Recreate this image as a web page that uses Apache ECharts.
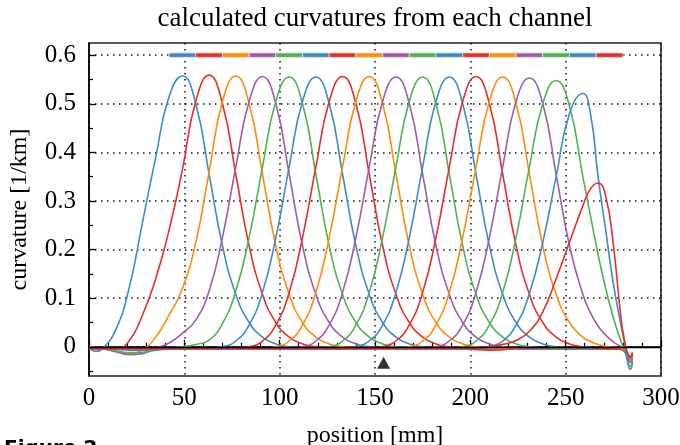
<!DOCTYPE html>
<html><head><meta charset="utf-8">
<script src="https://cdn.jsdelivr.net/npm/echarts@6/dist/echarts.min.js"></script>
<style>html,body{margin:0;padding:0;background:#fff}#c{width:680px;height:445px}</style>
</head><body><div id="c"></div>
<script>
// sample positions [mm]
const positions = [0,3.5,7,14,21,28,35,42,49,56,63,70,77,84,91,98,105,112,119,126,133,140,147,154,161,168,175,182,189,196,203,210,217,224,231,238,245,252,259,263,267,271,275,279,281,283,284,285];

// curvature [1/km] of each channel, read at the positions above
const ch1 = [-0.002,-0.009,-0.004,0.035,0.12,0.255,0.39,0.515,0.557,0.50,0.355,0.208,0.108,0.05,0.02,0.006,0.0,-0.002,
 -0.003,-0.003,-0.003,-0.003,-0.003,-0.003,-0.003,-0.003,-0.003,-0.003,-0.003,-0.003,-0.003,-0.003,-0.003,-0.003,-0.003,-0.003,-0.003,-0.003,-0.003,-0.003,-0.003,-0.003,-0.003,
 -0.004,-0.008,-0.02,-0.022,-0.014];
const ch2 = [-0.001,-0.002,-0.003,-0.005,0.012,0.065,0.14,0.24,0.365,0.505,0.559,0.50,0.355,0.208,0.108,0.05,0.02,0.006,0.0,-0.002,
 -0.004,-0.004,-0.004,-0.004,-0.004,-0.004,-0.004,-0.004,-0.004,-0.004,-0.004,-0.004,-0.004,-0.004,-0.004,-0.004,-0.004,-0.004,-0.004,-0.004,-0.004,-0.004,-0.004,
 -0.005,-0.009,-0.018,-0.02,-0.012];
const ch3 = [0.0,-0.002,-0.004,-0.009,-0.014,-0.006,0.02,0.065,0.12,0.215,0.36,0.505,0.557,0.50,0.355,0.208,0.108,0.05,0.02,0.006,0.0,-0.002,
 -0.003,-0.003,-0.003,-0.003,-0.003,-0.003,-0.003,-0.003,-0.003,-0.003,-0.003,-0.003,-0.003,-0.003,-0.003,-0.003,-0.003,-0.003,-0.003,-0.003,-0.003,
 -0.004,-0.01,-0.022,-0.026,-0.018];
const ch4 = [-0.001,-0.002,-0.004,-0.01,-0.016,-0.014,-0.003,0.008,0.028,0.055,0.115,0.225,0.37,0.505,0.556,0.50,0.355,0.208,0.108,0.05,0.02,0.006,0.0,-0.002,
 -0.003,-0.003,-0.003,-0.003,-0.003,-0.003,-0.003,-0.003,-0.003,-0.003,-0.003,-0.003,-0.003,-0.003,-0.003,-0.003,-0.003,-0.003,-0.003,
 -0.004,-0.01,-0.025,-0.03,-0.02];
const ch5 = [-0.001,-0.002,-0.004,-0.008,-0.012,-0.011,-0.007,-0.003,0.0,0.005,0.014,0.048,0.115,0.225,0.37,0.505,0.555,0.50,0.355,0.208,0.108,0.05,0.02,0.006,0.0,-0.002,
 -0.003,-0.003,-0.003,-0.003,-0.003,-0.003,-0.003,-0.003,-0.003,-0.003,-0.003,-0.003,-0.003,-0.003,-0.003,-0.003,-0.003,
 -0.004,-0.009,-0.02,-0.024,-0.016];
const ch6 = [-0.002,-0.003,-0.004,-0.005,-0.007,-0.007,-0.006,-0.005,-0.004,-0.003,-0.003,0.0,0.012,0.045,0.112,0.225,0.37,0.505,0.555,0.50,0.355,0.208,0.108,0.05,0.02,0.006,0.0,-0.002,
 -0.004,-0.004,-0.004,-0.004,-0.004,-0.004,-0.004,-0.004,-0.004,-0.004,-0.004,-0.004,-0.004,-0.004,-0.004,
 -0.005,-0.01,-0.022,-0.027,-0.02];
const ch7 = [-0.003,-0.003,-0.003,-0.003,-0.003,-0.003,-0.003,-0.003,-0.003,-0.003,-0.003,-0.003,-0.003,
 0.0,0.012,0.045,0.112,0.225,0.37,0.505,0.556,0.50,0.355,0.208,0.108,0.05,0.02,0.006,0.0,-0.003,-0.006,-0.007,-0.006,
 -0.004,-0.004,-0.004,-0.004,-0.004,-0.004,-0.004,-0.004,-0.004,-0.004,
 -0.005,-0.009,-0.02,-0.023,-0.015];
const ch8 = [-0.003,-0.003,-0.003,-0.003,-0.003,-0.003,-0.003,-0.003,-0.003,-0.003,-0.003,-0.003,-0.003,-0.003,-0.003,
 0.0,0.012,0.045,0.112,0.225,0.37,0.505,0.556,0.50,0.355,0.208,0.108,0.05,0.02,0.006,0.0,-0.002,
 -0.003,-0.003,-0.003,-0.003,-0.003,-0.003,-0.003,-0.003,-0.003,-0.003,-0.003,
 -0.004,-0.01,-0.024,-0.028,-0.02];
const ch9 = [-0.003,-0.003,-0.003,-0.003,-0.003,-0.003,-0.003,-0.003,-0.003,-0.003,-0.003,-0.003,-0.003,-0.003,-0.003,-0.003,-0.003,
 0.0,0.012,0.045,0.112,0.225,0.37,0.505,0.555,0.50,0.355,0.208,0.108,0.05,0.02,0.006,0.0,-0.002,
 -0.003,-0.003,-0.003,-0.003,-0.003,-0.003,-0.003,-0.003,-0.003,
 -0.004,-0.009,-0.023,-0.028,-0.019];
const ch10 = [-0.003,-0.003,-0.003,-0.003,-0.003,-0.003,-0.003,-0.003,-0.003,-0.003,-0.003,-0.003,-0.003,-0.003,-0.003,-0.003,-0.003,-0.003,-0.003,
 0.0,0.012,0.045,0.112,0.225,0.37,0.505,0.555,0.50,0.355,0.208,0.108,0.05,0.02,0.006,0.0,-0.002,
 -0.003,-0.003,-0.003,-0.003,-0.003,-0.003,-0.003,
 -0.004,-0.008,-0.021,-0.026,-0.017];
const ch11 = [-0.004,-0.004,-0.004,-0.004,-0.004,-0.004,-0.004,-0.004,-0.004,-0.004,-0.004,-0.004,-0.004,-0.004,-0.004,-0.004,-0.004,-0.004,-0.004,-0.004,-0.004,
 0.0,0.012,0.045,0.112,0.225,0.37,0.505,0.555,0.50,0.355,0.208,0.108,0.05,0.02,0.006,0.0,-0.002,
 -0.004,-0.004,-0.004,-0.004,-0.004,
 -0.005,-0.01,-0.024,-0.03,-0.021];
const ch12 = [-0.004,-0.004,-0.004,-0.004,-0.004,-0.004,-0.004,-0.004,-0.004,-0.004,-0.004,-0.004,-0.004,-0.004,-0.004,-0.004,-0.004,-0.004,-0.004,-0.004,-0.004,-0.004,-0.004,
 0.0,0.012,0.045,0.112,0.225,0.37,0.505,0.556,0.50,0.355,0.208,0.108,0.05,0.02,0.006,0.0,
 -0.002,-0.003,-0.004,-0.004,
 -0.005,-0.009,-0.019,-0.022,-0.014];
const ch13 = [-0.003,-0.003,-0.003,-0.003,-0.003,-0.003,-0.003,-0.003,-0.003,-0.003,-0.003,-0.003,-0.003,-0.003,-0.003,-0.003,-0.003,-0.003,-0.003,-0.003,-0.003,-0.003,-0.003,-0.003,-0.003,
 0.0,0.012,0.045,0.112,0.225,0.37,0.505,0.555,0.50,0.355,0.208,0.108,0.05,0.02,
 0.011,0.005,0.001,-0.001,
 -0.003,-0.009,-0.024,-0.029,-0.02];
const ch14 = [-0.003,-0.003,-0.003,-0.003,-0.003,-0.003,-0.003,-0.003,-0.003,-0.003,-0.003,-0.003,-0.003,-0.003,-0.003,-0.003,-0.003,-0.003,-0.003,-0.003,-0.003,-0.003,-0.003,-0.003,-0.003,-0.003,-0.003,
 0.0,0.012,0.045,0.112,0.225,0.37,0.505,0.553,0.50,0.355,0.208,0.108,
 0.07,0.043,0.024,0.01,
 0.0,-0.006,-0.026,-0.032,-0.022];
const ch15 = [-0.003,-0.003,-0.003,-0.003,-0.003,-0.003,-0.003,-0.003,-0.003,-0.003,-0.003,-0.003,-0.003,-0.003,-0.003,-0.003,-0.003,-0.003,-0.003,-0.003,-0.003,-0.003,-0.003,-0.003,-0.003,-0.003,-0.003,-0.003,-0.003,
 0.0,0.012,0.045,0.112,0.225,0.37,0.50,0.548,0.495,0.35,
 0.27,0.19,0.12,0.06,
 0.012,-0.008,-0.035,-0.04,-0.025];
const ch16 = [-0.004,-0.004,-0.004,-0.004,-0.004,-0.004,-0.004,-0.004,-0.004,-0.004,-0.004,-0.004,-0.004,-0.004,-0.004,-0.004,-0.004,-0.004,-0.004,-0.004,-0.004,-0.004,-0.004,-0.004,-0.004,-0.004,-0.004,-0.004,-0.004,-0.004,-0.004,
 0.0,0.012,0.045,0.11,0.215,0.35,0.48,0.521,
 0.48,0.35,0.24,0.13,
 0.045,0.005,-0.04,-0.046,-0.03];
const ch17 = [-0.004,-0.004,-0.004,-0.004,-0.004,-0.004,-0.004,-0.004,-0.004,-0.004,-0.004,-0.004,-0.004,-0.004,-0.004,-0.004,-0.004,-0.004,-0.004,-0.004,-0.004,-0.004,-0.004,-0.004,-0.004,-0.004,-0.004,-0.004,-0.004,-0.004,
 -0.003,0.0,0.005,0.013,0.032,0.072,0.14,0.215,0.29,
 0.325,0.337,0.31,0.21,
 0.06,0.01,-0.018,-0.02,-0.012];

const channels = [ch1,ch2,ch3,ch4,ch5,ch6,ch7,ch8,ch9,ch10,ch11,ch12,ch13,ch14,ch15,ch16,ch17];
const palette = ['#3d8cc8','#e62e2b','#ff8c0a','#9f5bae','#52b152'];

// coloured channel bar on top
const barEdges = [42,56,70,84,98,112,126,140,154,168,182,196,210,224,238,252,266,280];
const barLevel = 0.6;
// triangle marker
const markerPoint = [[154.5,-0.033]];

// axis ticks
const yMajorTicks = [0,0.1,0.2,0.3,0.4,0.5,0.6];
const yMinorTicks = [-0.05,0.05,0.15,0.25,0.35,0.45,0.55];

const SERIF = '"Liberation Serif","DejaVu Serif",serif';
const chart = echarts.init(document.getElementById('c'), null, {renderer:'canvas'});

const series = channels.map((ch, k) => ({
  type: 'line',
  data: positions.map((x, i) => [x, ch[i]]),
  showSymbol: false,
  smooth: 0.5,
  lineStyle: {color: palette[k % 5], width: 1.6},
  itemStyle: {color: palette[k % 5]},
  z: 3 + k * 0.01,
  silent: true,
  animation: false
}));

series.push({
  type: 'line', data: [], silent: true,
  markLine: {silent: true, symbol: 'none', label: {show: false},
    lineStyle: {color: '#000', width: 1.3, type: 'solid'},
    data: [{yAxis: 0}], animation: false},
  z: 2
});

const barData = [];
for (let i = 0; i < barEdges.length - 1; i++) barData.push([barEdges[i], barEdges[i + 1], barLevel, i % 5]);
series.push({
  type: 'custom', data: barData, silent: true, z: 5,
  renderItem: (params, api) => {
    const s = api.coord([api.value(0), api.value(2)]);
    const e = api.coord([api.value(1), api.value(2)]);
    const h = 4.5;
    return {type: 'rect', shape: {x: s[0], y: s[1] - h / 2, width: e[0] - s[0], height: h},
      style: {fill: palette[api.value(3)], stroke: 'rgba(235,235,235,0.9)', lineWidth: 0.8}};
  }
});

series.push({
  type: 'scatter', data: markerPoint, symbol: 'triangle', symbolSize: [13, 12],
  itemStyle: {color: '#000'}, silent: true, z: 6
});

chart.setOption({
  animation: false,
  backgroundColor: '#fff',
  grid: {left: 89, right: 19, top: 43, bottom: 69, show: true, borderColor: '#222', borderWidth: 1.6,
    backgroundColor: 'transparent', containLabel: false, outerBoundsMode: 'none'},
  xAxis: {
    type: 'value', min: 0, max: 300, interval: 50,
    name: 'position [mm]', nameLocation: 'middle', nameGap: 48,
    nameTextStyle: {fontFamily: SERIF, fontSize: 24, color: '#000'},
    axisLine: {show: true, lineStyle: {color: '#000', width: 1.5}},
    axisTick: {show: true, inside: true, length: 7, lineStyle: {color: '#000', width: 1.3}},
    minorTick: {show: true, splitNumber: 5, length: 4, lineStyle: {color: '#000', width: 1.2}},
    axisLabel: {fontFamily: SERIF, fontSize: 25, color: '#000', margin: 10},
    splitLine: {show: true, lineStyle: {color: '#111', width: 1.5, type: [1.5, 4.5]}}
  },
  yAxis: [{
    type: 'value', min: -0.06, max: 0.625, position: 'left',
    name: 'curvature [1/km]', nameLocation: 'middle', nameGap: 57,
    nameTextStyle: {fontFamily: SERIF, fontSize: 24, color: '#000'},
    axisLine: {show: true, lineStyle: {color: '#000', width: 1.5}},
    axisTick: {show: true, inside: true, length: 7, customValues: yMajorTicks, lineStyle: {color: '#000', width: 1.3}},
    axisLabel: {fontFamily: SERIF, fontSize: 25, color: '#000', margin: 13, customValues: yMajorTicks,
      formatter: v => (Math.abs(v) < 1e-9 ? '0' : v.toFixed(1))},
    splitLine: {show: true, lineStyle: {color: '#111', width: 1.5, type: [1.5, 4.5]}}
  }, {
    type: 'value', min: -0.06, max: 0.625, position: 'left', offset: 0,
    axisLine: {show: false},
    axisTick: {show: true, inside: true, length: 4, customValues: yMinorTicks, lineStyle: {color: '#000', width: 1.2}},
    axisLabel: {show: false},
    splitLine: {show: false}
  }],
  graphic: [
    {type: 'text', x: 375, y: 19, style: {text: 'calculated curvatures from each channel', font: '27px ' + SERIF, fill: '#000', textAlign: 'center', textVerticalAlign: 'middle'}},
    {type: 'text', x: 4, y: 439, style: {text: 'Figure 2', font: 'bold 20px "DejaVu Sans",sans-serif', fill: '#000', textAlign: 'left', textVerticalAlign: 'top'}}
  ],
  series: series
});
</script>
</body></html>
